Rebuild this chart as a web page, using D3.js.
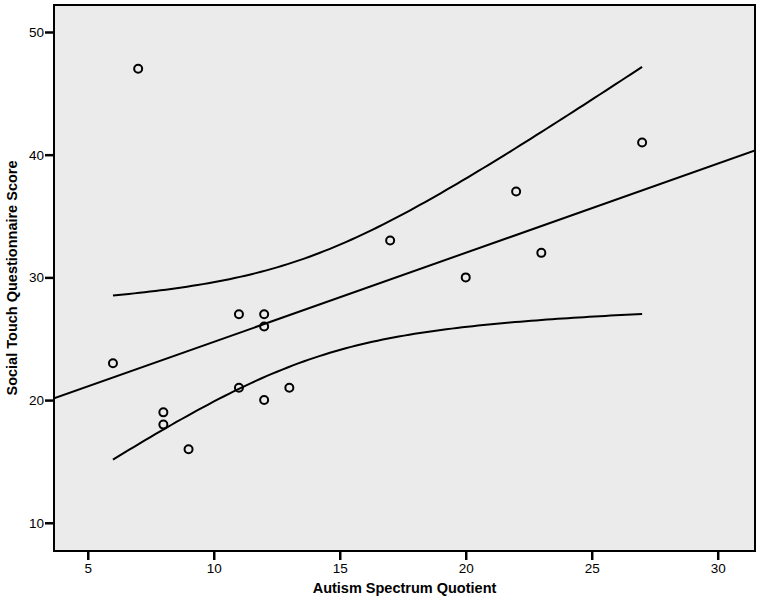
<!DOCTYPE html>
<html>
<head>
<meta charset="utf-8">
<script src="https://cdn.jsdelivr.net/npm/d3@7"></script>
<style>
  html, body { margin: 0; padding: 0; background: #ffffff; }
  svg { display: block; }
  text { font-family: "Liberation Sans", Arial, sans-serif; fill: #000; }
</style>
</head>
<body>
<svg id="chart" width="760" height="601"></svg>
<script>
// Data
const aqScores  = [7, 6, 8, 8, 9, 11, 11, 12, 12, 12, 13, 17, 20, 22, 23, 27];
const stqScores = [47, 23, 19, 18, 16, 27, 21, 27, 26, 20, 21, 33, 30, 37, 32, 41];
const xTicks = [5, 10, 15, 20, 25, 30];
const yTicks = [10, 20, 30, 40, 50];
const xTitle = "Autism Spectrum Quotient";
const yTitle = "Social Touch Questionnaire Score";
const tCrit = 2.145; // t(0.975, df=14)

(function () {
const svg = d3.select("#chart");
const pL = 54, pR = 755, pT = 5, pB = 551;

const x = d3.scaleLinear().domain([3.66, 31.48]).range([pL, pR]);
const y = d3.scaleLinear().domain([7.70, 52.2]).range([pB, pT]);

// background
svg.append("rect").attr("x", pL).attr("y", pT)
  .attr("width", pR - pL).attr("height", pB - pT)
  .attr("fill", "#ebebeb");

// regression
const n = aqScores.length;
const mx = d3.mean(aqScores), my = d3.mean(stqScores);
let sxx = 0, sxy = 0;
for (let i = 0; i < n; i++) {
  sxx += (aqScores[i] - mx) ** 2;
  sxy += (aqScores[i] - mx) * (stqScores[i] - my);
}
const b = sxy / sxx, a = my - b * mx;
let sse = 0;
for (let i = 0; i < n; i++) sse += (stqScores[i] - (a + b * aqScores[i])) ** 2;
const s = Math.sqrt(sse / (n - 2));

svg.append("clipPath").attr("id", "clip")
  .append("rect").attr("x", pL).attr("y", pT)
  .attr("width", pR - pL).attr("height", pB - pT);

const g = svg.append("g").attr("clip-path", "url(#clip)");

const [xd0, xd1] = x.domain();
g.append("line")
  .attr("x1", x(xd0)).attr("y1", y(a + b * xd0))
  .attr("x2", x(xd1)).attr("y2", y(a + b * xd1))
  .attr("stroke", "#000").attr("stroke-width", 2);

const xmin = d3.min(aqScores), xmax = d3.max(aqScores);
const grid = d3.range(0, 101).map(i => xmin + (xmax - xmin) * i / 100);
const band = sign => grid.map(v => {
  const se = s * Math.sqrt(1 / n + (v - mx) ** 2 / sxx);
  return [v, a + b * v + sign * tCrit * se];
});
const line = d3.line().x(d => x(d[0])).y(d => y(d[1]));
[1, -1].forEach(sg => {
  g.append("path").attr("d", line(band(sg)))
    .attr("fill", "none").attr("stroke", "#000").attr("stroke-width", 2);
});

// points
g.selectAll("circle.pt").data(aqScores.map((v, i) => [v, stqScores[i]]))
  .enter().append("circle").attr("class", "pt")
  .attr("cx", d => x(d[0])).attr("cy", d => y(d[1]))
  .attr("r", 4).attr("fill", "none")
  .attr("stroke", "#000").attr("stroke-width", 2);

// frame
svg.append("rect").attr("x", pL).attr("y", pT)
  .attr("width", pR - pL).attr("height", pB - pT)
  .attr("fill", "none").attr("stroke", "#000").attr("stroke-width", 2);

// axes
const xAxis = d3.axisBottom(x).tickValues(xTicks).tickSize(9).tickPadding(3).tickSizeOuter(0);
const gx = svg.append("g").attr("transform", `translate(0,${pB})`).call(xAxis);
gx.select(".domain").remove();
gx.selectAll(".tick line").attr("stroke", "#000").attr("stroke-width", 2.5);
gx.selectAll(".tick text").attr("font-size", 13.5).attr("font-family", "Liberation Sans, Arial, sans-serif").attr("fill", "#000");

const yAxis = d3.axisLeft(y).tickValues(yTicks).tickSize(9).tickPadding(1).tickSizeOuter(0);
const gy = svg.append("g").attr("transform", `translate(${pL},0)`).call(yAxis);
gy.select(".domain").remove();
gy.selectAll(".tick line").attr("stroke", "#000").attr("stroke-width", 2.5);
gy.selectAll(".tick text").attr("font-size", 13.5).attr("font-family", "Liberation Sans, Arial, sans-serif").attr("fill", "#000");

// titles
svg.append("text").attr("x", (pL + pR) / 2).attr("y", 593)
  .attr("text-anchor", "middle").attr("font-size", 14.5).attr("font-weight", "bold")
  .text(xTitle);
svg.append("text").attr("transform", `translate(17,${(pT + pB) / 2}) rotate(-90)`)
  .attr("text-anchor", "middle").attr("font-size", 14.5).attr("font-weight", "bold")
  .text(yTitle);
})();
</script>
</body>
</html>
